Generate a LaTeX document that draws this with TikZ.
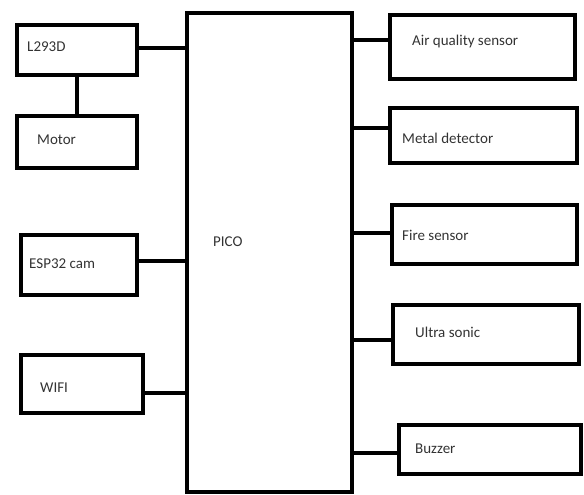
\documentclass[tikz,border=0pt]{standalone}
\usepackage{fontspec}
\setmainfont{Carlito}
\begin{document}
\begin{tikzpicture}[x=1pt,y=-1pt,
  blk/.style={draw=black, line width=3.6pt, rectangle, inner sep=0pt, outer sep=0pt},
  lbl/.style={anchor=west, inner sep=0pt, font=\fontsize{15}{18}\selectfont, text=black!80},
  wire/.style={draw=black, line width=3.4pt}]
\useasboundingbox (0,0) rectangle (584,495);
% boxes
\node[blk, minimum width=165pt, minimum height=479pt] (pico) at (269.5,252.5) {};
\node[blk, minimum width=120pt, minimum height=50pt] (l293) at (77,50) {};
\node[blk, minimum width=120pt, minimum height=52pt] (motor) at (77,142) {};
\node[blk, minimum width=116pt, minimum height=60pt] (esp) at (79,265) {};
\node[blk, minimum width=122pt, minimum height=58pt] (wifi) at (82,384) {};
\node[blk, minimum width=185pt, minimum height=64pt] (aq) at (482.5,47) {};
\node[blk, minimum width=187pt, minimum height=55pt] (metal) at (483.5,135.5) {};
\node[blk, minimum width=185pt, minimum height=59pt] (fire) at (484.5,234.5) {};
\node[blk, minimum width=186pt, minimum height=59pt] (ultra) at (486,334.5) {};
\node[blk, minimum width=182pt, minimum height=49pt] (buzz) at (490,449.5) {};
% labels
\node[lbl] (tl293) at (27,47) {L293D};
\node[lbl] (tmotor) at (37,140) {Motor};
\node[lbl] (tesp) at (29,264) {ESP32 cam};
\node[lbl] (twifi) at (40,388) {WIFI};
\node[lbl] (tpico) at (213,242) {PICO};
\node[lbl] (taq) at (412,42) {Air quality sensor};
\node[lbl] (tmetal) at (402,138) {Metal detector};
\node[lbl] (tfire) at (402,235) {Fire sensor};
\node[lbl] (tultra) at (415,332) {Ultra sonic};
\node[lbl] (tbuzz) at (415,449) {Buzzer};
% connection points
\coordinate (cl293) at (l293.east |- 0,48);
\coordinate (cesp) at (esp.east |- 0,261);
\coordinate (cwifi) at (wifi.east |- 0,393);
\coordinate (caq) at (aq.west |- 0,40);
\coordinate (cmetal) at (metal.west |- 0,128);
\coordinate (cfire) at (fire.west |- 0,233);
\coordinate (cultra) at (ultra.west |- 0,340);
\coordinate (cbuzz) at (buzz.west |- 0,453);
% connectors
\draw[wire] (l293.south) -- (motor.north);
\draw[wire] (cl293) -- (cl293 -| pico.west);
\draw[wire] (cesp) -- (cesp -| pico.west);
\draw[wire] (cwifi) -- (cwifi -| pico.west);
\draw[wire] (caq) -- (caq -| pico.east);
\draw[wire] (cmetal) -- (cmetal -| pico.east);
\draw[wire] (cfire) -- (cfire -| pico.east);
\draw[wire] (cultra) -- (cultra -| pico.east);
\draw[wire] (cbuzz) -- (cbuzz -| pico.east);
\end{tikzpicture}
\end{document}
